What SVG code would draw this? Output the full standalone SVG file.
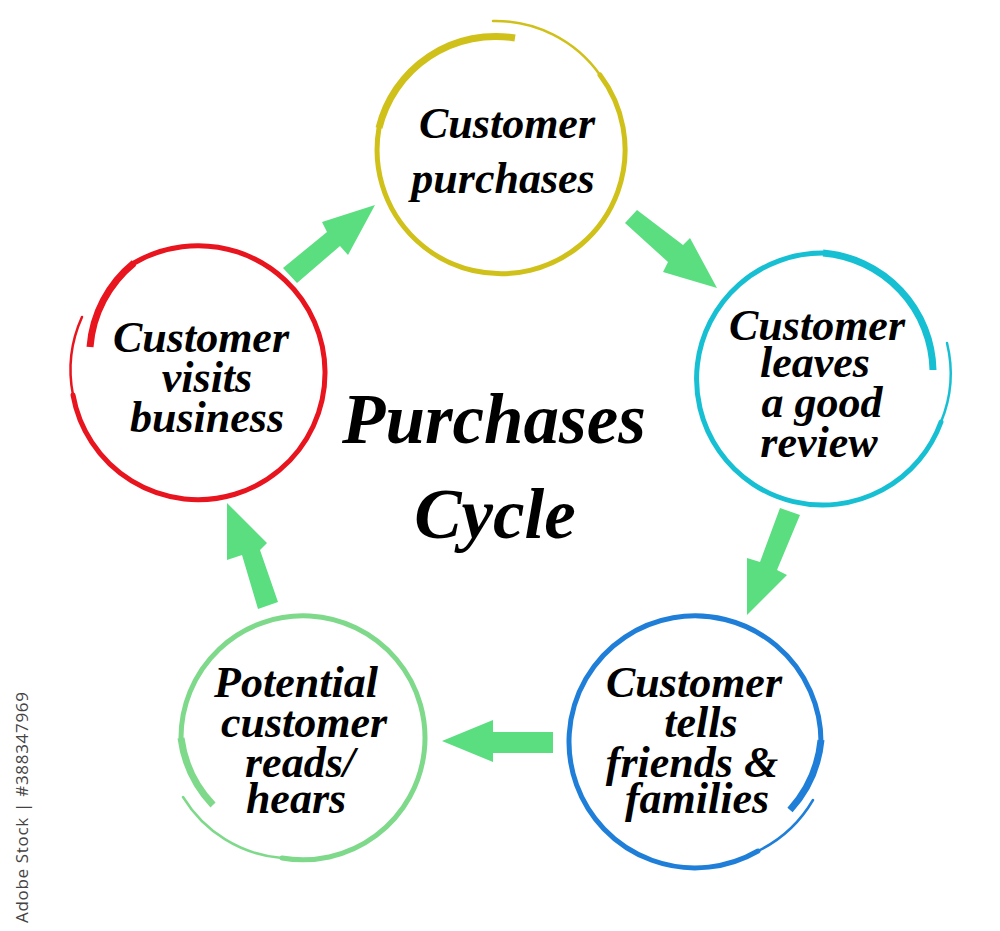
<svg xmlns="http://www.w3.org/2000/svg" width="1000" height="931" viewBox="0 0 1000 931">
<style>
.t{font-family:"Liberation Serif","Times New Roman",serif;font-style:italic;font-weight:bold;font-size:44px;fill:#000;text-anchor:middle}
.title{font-size:71px}
.ring{fill:none;stroke-linecap:round}
.thick{stroke-width:7;stroke-linecap:butt}
.main{stroke-width:5}
.tail{stroke-width:2.5}
.arrow{fill:#5BDE80;stroke:none}
.wm{font-family:"Open Sans","Noto Sans",sans-serif;font-size:17px;fill:#444}
</style>
<rect width="1000" height="931" fill="#fff"/>

<g id="connectors">
<polygon class="arrow" points="283,268 327,232 322,222 375,205 348,255 340,246 297,283"/>
<polygon class="arrow" points="637,210 683,245 690,238 717,288 663,272 668,262 625,223"/>
<polygon class="arrow" points="780,508 800,515 777,570 787,575 747,615 747,558 760,562"/>
<polygon class="arrow" points="553,732 553,753 493,753 493,762 442,741 493,720 493,732"/>
<polygon class="arrow" points="278,602 260,550 267,543 227,503 227,560 242,555 258,609"/>
</g>

<g id="node-purchases">
<g class="ring" stroke="#D0C01A">
<path class="thick" d="M515 38 A120 120 0 0 0 379 128"/>
<path class="main" d="M379 128 A124 124 0 1 0 600 75"/>
<path class="tail" d="M600 75 A128 128 0 0 0 493 21"/>
</g>
<text class="t" x="507" y="138">Customer</text>
<text class="t" x="503" y="193">purchases</text>
</g>

<g id="node-review">
<g class="ring" stroke="#17BFD3">
<path class="thick" d="M933 370 A120 120 0 0 0 823 253"/>
<path class="main" d="M823 253 A126 126 0 1 0 941 422"/>
<path class="tail" d="M941 422 A128 128 0 0 0 947 343"/>
</g>
<text class="t" x="817" y="340">Customer</text>
<text class="t" x="815" y="377">leaves</text>
<text class="t" x="822" y="417">a good</text>
<text class="t" x="819" y="457">review</text>
</g>

<g id="node-tells">
<g class="ring" stroke="#1F7FD8">
<path class="thick" d="M790 810 A122 122 0 0 0 821 740"/>
<path class="main" d="M821 742 A126 126 0 1 0 758 851"/>
<path class="tail" d="M758 851 A130 130 0 0 0 813 800"/>
</g>
<text class="t" x="694" y="697">Customer</text>
<text class="t" x="701" y="737">tells</text>
<text class="t" x="692" y="777">friends &amp;</text>
<text class="t" x="697" y="813">families</text>
</g>

<g id="node-potential">
<g class="ring" stroke="#7ED98A">
<path class="thick" d="M213 805 A120 120 0 0 1 181 738"/>
<path class="main" d="M181 738 A122 122 0 1 1 282 858"/>
<path class="tail" d="M282 858 A128 128 0 0 1 183 797"/>
</g>
<text class="t" x="296" y="697">Potential</text>
<text class="t" x="304" y="737">customer</text>
<text class="t" x="300" y="777">reads/</text>
<text class="t" x="296" y="813">hears</text>
</g>

<g id="node-visits">
<g class="ring" stroke="#E8141E">
<path class="thick" d="M90 347 A120 120 0 0 1 134 263"/>
<path class="main" d="M134 263 A127 127 0 1 1 73 395"/>
<path class="tail" d="M73 395 A129 129 0 0 1 82 317"/>
</g>
<text class="t" x="201" y="352">Customer</text>
<text class="t" x="207" y="392">visits</text>
<text class="t" x="207" y="432">business</text>
</g>

<g id="title">
<text class="t title" x="494" y="443">Purchases</text>
<text class="t title" x="495" y="538">Cycle</text>
</g>

<text class="wm" transform="translate(28,923) rotate(-90)" textLength="231">Adobe Stock | #388347969</text>
</svg>
